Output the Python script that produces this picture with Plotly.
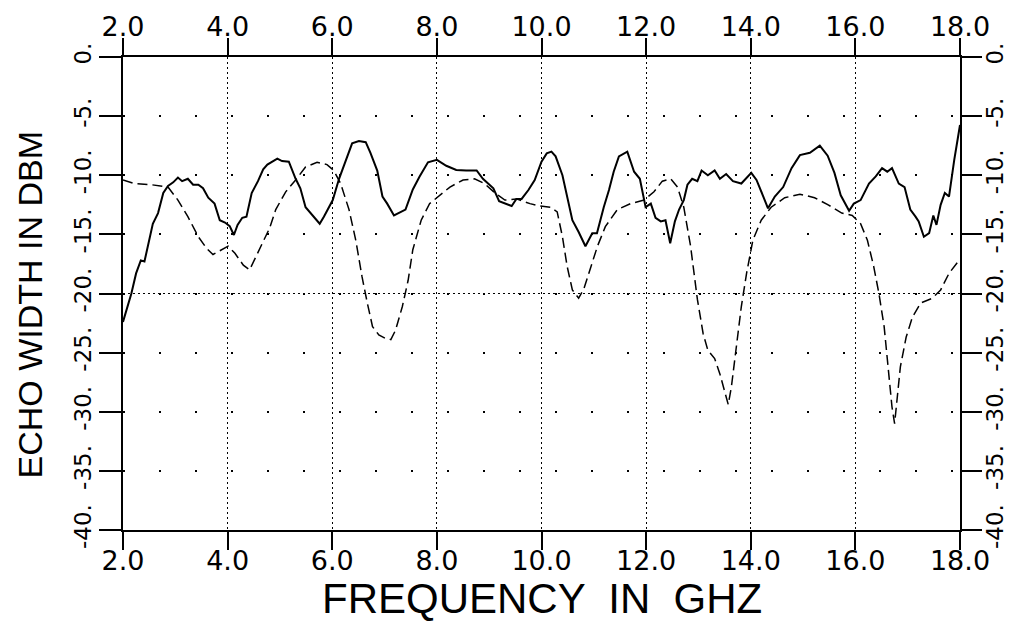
import plotly.graph_objects as go

# ---- data ----
freq_solid = [2.00, 2.16, 2.25, 2.34, 2.41, 2.51, 2.57, 2.67, 2.77, 2.86, 2.96, 3.05, 3.13, 3.24, 3.34,
              3.44, 3.53, 3.63, 3.75, 3.85, 3.95, 4.04, 4.12, 4.19, 4.28, 4.36, 4.46, 4.58, 4.68, 4.76,
              4.85, 4.95, 5.04, 5.17, 5.30, 5.39, 5.49, 5.62, 5.76, 5.84, 5.94, 6.01, 6.13, 6.26, 6.38,
              6.51, 6.64, 6.73, 6.86, 6.96, 7.05, 7.18, 7.28, 7.40, 7.54, 7.67, 7.83, 8.00, 8.18, 8.37,
              8.56, 8.76, 8.88, 9.08, 9.19, 9.33, 9.43, 9.52, 9.62, 9.75, 9.87, 10.00, 10.10, 10.19,
              10.27, 10.40, 10.49, 10.59, 10.71, 10.84, 10.97, 11.06, 11.19, 11.29, 11.38, 11.48, 11.64,
              11.77, 11.88, 11.99, 12.09, 12.18, 12.28, 12.37, 12.46, 12.55, 12.63, 12.72, 12.79, 12.88,
              12.98, 13.06, 13.18, 13.31, 13.41, 13.53, 13.66, 13.82, 14.01, 14.11, 14.24, 14.33, 14.46,
              14.62, 14.78, 14.94, 15.13, 15.32, 15.47, 15.60, 15.72, 15.88, 15.97, 16.10, 16.26, 16.39,
              16.51, 16.61, 16.70, 16.83, 16.94, 17.05, 17.15, 17.21, 17.31, 17.41, 17.49, 17.55, 17.63,
              17.71, 17.79, 17.89, 18.00]
echo_solid = [-22.4, -20.0, -18.3, -17.2, -17.3, -15.2, -14.1, -13.2, -11.5, -10.9, -10.6, -10.2, -10.5,
              -10.3, -10.8, -10.8, -11.1, -11.9, -12.4, -13.8, -14.0, -14.3, -15.05, -14.2, -13.6, -13.5,
              -11.5, -10.5, -9.5, -9.1, -8.85, -8.6, -8.8, -8.85, -10.3, -11.1, -12.7, -13.4, -14.1, -13.5,
              -12.7, -12.1, -10.3, -8.7, -7.3, -7.1, -7.2, -8.1, -9.6, -11.8, -12.4, -13.4, -13.2, -12.9,
              -11.2, -10.1, -8.9, -8.7, -9.2, -9.55, -9.6, -9.6, -10.3, -11.1, -12.2, -12.4, -12.6, -12.0,
              -12.0, -11.25, -10.4, -8.85, -8.15, -8.0, -8.4, -10.0, -11.8, -13.8, -14.8, -16.0, -14.9,
              -14.9, -12.7, -11.25, -9.7, -8.4, -8.0, -9.7, -10.3, -12.7, -12.4, -13.6, -13.9, -13.8,
              -15.75, -13.9, -12.9, -12.1, -10.8, -10.3, -10.5, -9.6, -10.0, -9.6, -10.3, -9.9, -10.5,
              -10.7, -9.8, -10.4, -11.8, -12.8, -11.8, -11.0, -9.4, -8.3, -8.1, -7.5, -8.35, -9.8, -11.7,
              -13.0, -12.4, -12.1, -10.7, -10.1, -9.4, -9.7, -9.4, -10.7, -11.0, -12.9, -13.5, -13.9,
              -15.2, -14.9, -13.4, -14.2, -12.5, -11.5, -11.8, -8.7, -5.75]

freq_dashed = [2.00, 2.22, 2.54, 2.86, 3.05, 3.24, 3.44, 3.60, 3.72, 3.88, 4.01, 4.14, 4.30, 4.42, 4.58,
               4.68, 4.80, 4.92, 5.11, 5.30, 5.49, 5.71, 5.90, 6.03, 6.16, 6.32, 6.45, 6.57, 6.67, 6.77,
               6.89, 7.02, 7.12, 7.21, 7.34, 7.45, 7.54, 7.70, 7.86, 8.02, 8.25, 8.50, 8.72, 8.91, 9.11,
               9.30, 9.52, 9.78, 9.97, 10.17, 10.30, 10.40, 10.49, 10.59, 10.71, 10.81, 10.94, 11.07,
               11.22, 11.45, 11.70, 11.96, 12.15, 12.31, 12.47, 12.60, 12.72, 12.85, 12.98, 13.09, 13.18,
               13.31, 13.41, 13.50, 13.57, 13.63, 13.73, 13.82, 13.92, 14.04, 14.20, 14.39, 14.65, 14.94,
               15.22, 15.48, 15.74, 15.94, 16.10, 16.23, 16.35, 16.45, 16.55, 16.64, 16.70, 16.75, 16.80,
               16.86, 16.97, 17.09, 17.25, 17.47, 17.63, 17.79, 17.98]
echo_dashed = [-10.4, -10.7, -10.8, -11.0, -12.1, -13.5, -15.2, -16.2, -16.7, -16.3, -16.0, -16.6, -17.6,
               -18.0, -16.6, -15.6, -14.5, -12.9, -11.4, -10.4, -9.3, -8.9, -9.1, -9.6, -10.7, -12.9,
               -15.5, -18.6, -20.8, -22.8, -23.5, -23.8, -23.9, -23.1, -21.1, -18.9, -16.3, -13.8, -12.4,
               -11.8, -11.0, -10.4, -10.3, -10.7, -11.5, -12.1, -12.0, -12.4, -12.6, -12.7, -13.1, -15.2,
               -17.7, -19.7, -20.4, -19.6, -17.7, -16.0, -14.35, -12.9, -12.4, -12.1, -11.4, -10.5, -10.3,
               -11.0, -12.7, -16.0, -20.5, -23.4, -24.8, -25.5, -26.8, -28.4, -29.4, -27.9, -24.5, -21.1,
               -18.3, -15.5, -13.8, -12.7, -11.9, -11.6, -11.9, -12.5, -13.2, -13.4, -14.1, -15.5, -17.7,
               -20.0, -22.8, -26.7, -29.6, -31.0, -29.0, -26.2, -23.7, -22.0, -20.8, -20.4, -19.7, -18.3,
               -17.2]

x_ticks = [2, 4, 6, 8, 10, 12, 14, 16, 18]
x_tick_text = ["2.0", "4.0", "6.0", "8.0", "10.0", "12.0", "14.0", "16.0", "18.0"]
y_ticks = [-40, -35, -30, -25, -20, -15, -10, -5, 0]
y_tick_text = ["-40.", "-35.", "-30.", "-25.", "-20.", "-15.", "-10.", "-5.", "0."]
x_title = "FREQUENCY  IN  GHZ"
y_title = "ECHO WIDTH IN DBM"

TITLE_FONT = "Liberation Sans, Arial, sans-serif"
TICK_FONT = "DejaVu Sans, Verdana, sans-serif"

fig = go.Figure()
fig.add_trace(go.Scatter(x=freq_solid, y=echo_solid, mode="lines",
                         line=dict(color="black", width=2), showlegend=False))
fig.add_trace(go.Scatter(x=freq_dashed, y=echo_dashed, mode="lines",
                         line=dict(color="black", width=1.5, dash="10px,5px"), showlegend=False))
# helper (empty) traces so the mirrored axes are drawn
fig.add_trace(go.Scatter(x=[], y=[], xaxis="x2", yaxis="y2", showlegend=False, hoverinfo="skip"))
fig.add_trace(go.Scatter(x=[], y=[], xaxis="x", yaxis="y3", showlegend=False, hoverinfo="skip"))

tickfont_x = dict(family=TICK_FONT, size=27, color="black")
tickfont_y = dict(family=TICK_FONT, size=23, color="black")

# page body has an 8px default margin, so the figure is sized to fit the window
fig.update_layout(
    width=1005, height=613,
    margin=dict(l=115, r=53, t=49, b=91, autoexpand=False),
    paper_bgcolor="white", plot_bgcolor="white",
    xaxis=dict(range=[2, 18], tickvals=x_ticks, ticktext=x_tick_text, tickfont=tickfont_x,
               ticks="outside", ticklen=18, tickwidth=1.5, tickcolor="black", ticklabelstandoff=-12,
               showline=True, linewidth=2, linecolor="black", zeroline=False,
               showgrid=True, gridcolor="black", gridwidth=1, griddash="2px,3px",
               automargin=False, fixedrange=True),
    xaxis2=dict(range=[2, 18], overlaying="x", side="top", anchor="y", matches="x",
                tickvals=x_ticks, ticktext=x_tick_text, tickfont=tickfont_x,
                ticks="outside", ticklen=17, tickwidth=1.5, tickcolor="black", ticklabelstandoff=-9,
                showline=True, linewidth=2, linecolor="black", zeroline=False, showgrid=False,
                automargin=False),
    yaxis=dict(range=[-40, 0], tickvals=y_ticks, ticktext=y_tick_text, tickfont=tickfont_y,
               tickangle=-90, ticks="outside", ticklen=22, tickwidth=1.5, tickcolor="black",
               ticklabelstandoff=-1,
               showline=True, linewidth=2, linecolor="black", zeroline=False,
               showgrid=True, gridcolor="black", gridwidth=1.5, griddash="2px,34px",
               automargin=False),
    yaxis2=dict(range=[-40, 0], overlaying="y", side="right", anchor="x", matches="y",
                tickvals=y_ticks, ticktext=y_tick_text, tickfont=tickfont_y,
                tickangle=-90, ticks="outside", ticklen=20, tickwidth=1.5, tickcolor="black",
                ticklabelstandoff=-7,
                showline=True, linewidth=2, linecolor="black", zeroline=False, showgrid=False,
                automargin=False),
    yaxis3=dict(range=[-40, 0], overlaying="y", anchor="x", matches="y", tickvals=[-20],
                showticklabels=False, ticks="", showline=False, zeroline=False,
                showgrid=True, gridcolor="black", gridwidth=1.2, griddash="2px,3px",
                automargin=False),
    annotations=[
        dict(text=x_title, xref="paper", yref="paper", x=0.5, y=0, xanchor="center",
             yanchor="middle", yshift=-68, showarrow=False,
             font=dict(family=TITLE_FONT, size=42, color="black")),
        dict(text=y_title, xref="paper", yref="paper", x=0, y=0.5, xanchor="center",
             yanchor="middle", xshift=-94, yshift=-11, textangle=-90, showarrow=False,
             font=dict(family=TITLE_FONT, size=34, color="black")),
    ],
)

fig.write_html("out.html")
